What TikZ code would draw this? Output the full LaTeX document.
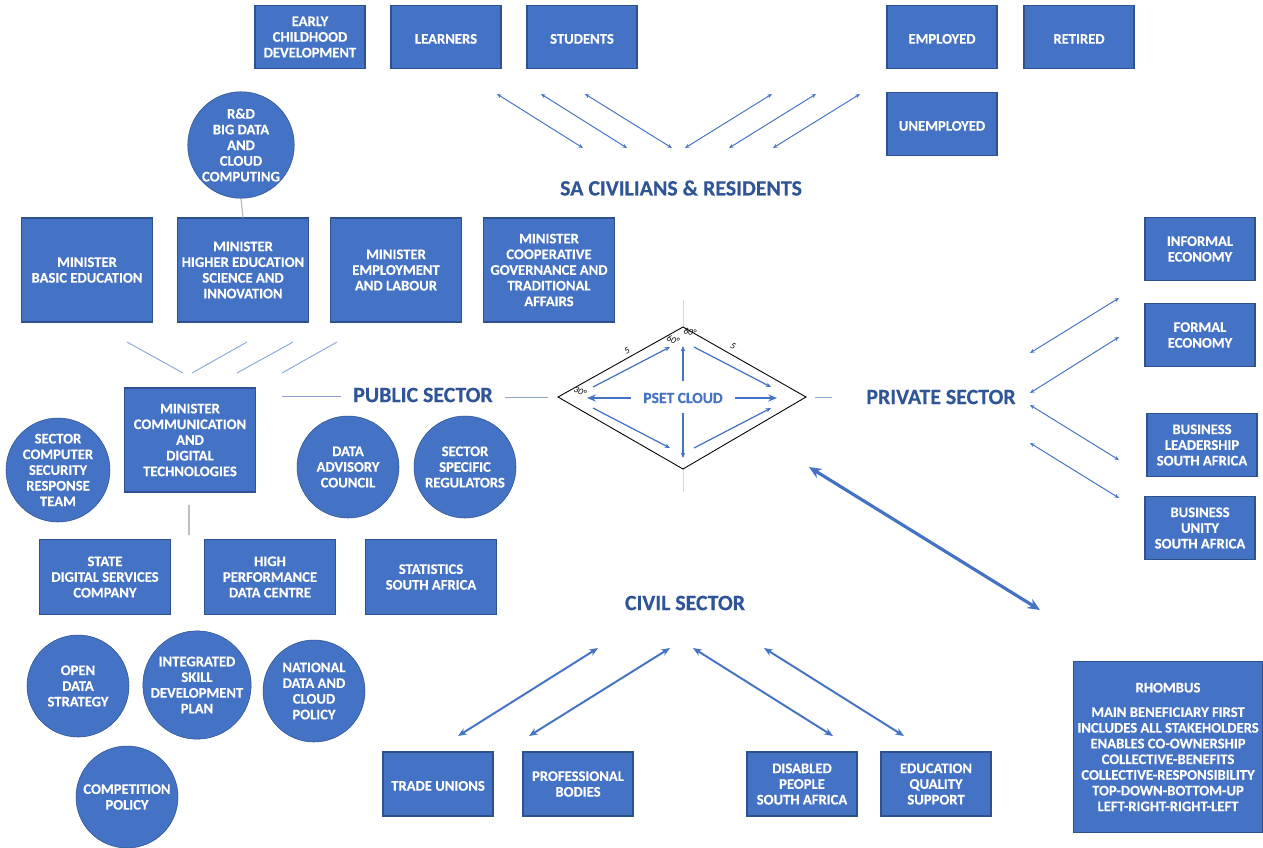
\documentclass[tikz,border=0pt]{standalone}
\usepackage{fontspec}
\setmainfont{Carlito}
\newfontface\heavy{Carlito Bold}[FakeBold=0.3]
\usetikzlibrary{arrows.meta}

\definecolor{boxblue}{HTML}{4472C4}
\definecolor{boxedge}{HTML}{2F528F}
\definecolor{headblue}{HTML}{2F5597}
\definecolor{linkblue}{HTML}{4472C4}
\definecolor{paleblue}{HTML}{8EA9DB}
\definecolor{softgray}{HTML}{BFBFBF}

\def\upx{0.5669pt}
\newcommand\boxfont{\fontsize{8.3}{8.9}\selectfont\heavy}
\newcommand\headfont{\fontsize{12.4}{14}\selectfont\heavy}

\tikzset{
  sqbox/.style n args={2}{draw=boxedge, line width=0.6pt, fill=boxblue,
    text=white, font=\boxfont, align=center, inner sep=0pt,
    minimum width=#1*\upx, minimum height=#2*\upx,
    execute at begin node={\rule{0pt}{7.6pt}}},
  disc/.style={circle, draw=boxedge, line width=0.3pt, fill=boxblue,
    text=white, font=\boxfont, align=center, inner sep=0pt,
    minimum size=#1*\upx},
  heading/.style={text=headblue, font=\headfont, inner sep=0pt},
  fanline/.style={draw=linkblue, line width=0.55pt,
    {Stealth[length=2.6pt,width=2.2pt]}-{Stealth[length=2.6pt,width=2.2pt]}},
  civline/.style={draw=linkblue, line width=1.1pt,
    {Stealth[length=5pt,width=4pt]}-{Stealth[length=5pt,width=4pt]}},
  bigline/.style={draw=linkblue, line width=1.8pt,
    {Stealth[length=7pt,width=6pt]}-{Stealth[length=7pt,width=6pt]}},
  feedline/.style={draw=paleblue, line width=0.55pt},
  stem/.style={draw=softgray, line width=0.7pt},
  inarrow/.style={draw=linkblue, line width=0.7pt, -{Stealth[length=3pt,width=2.5pt]}},
  inbold/.style={draw=linkblue, line width=1.3pt, -{Stealth[length=5pt,width=4pt]}},
  anglab/.style={font=\fontsize{5.2}{6}\selectfont\itshape, inner sep=0pt, text=black},
}

\begin{document}
\begin{tikzpicture}[x=0.5669pt, y=-0.5669pt]
\useasboundingbox[fill=white] (0,0) rectangle (1263,847);

% ---------- civilians & residents ----------
\node[sqbox={110}{63}] (ecd) at (310,37) {EARLY\\CHILDHOOD\\DEVELOPMENT};
\node[sqbox={110}{63}] (lrn) at (446,37) {LEARNERS};
\node[sqbox={110}{63}] (stu) at (582,37) {STUDENTS};
\node[sqbox={110}{63}] (emp) at (942,37) {EMPLOYED};
\node[sqbox={110}{63}] (ret) at (1079,37) {RETIRED};
\node[sqbox={110}{63}] (unemp) at (942,124) {UNEMPLOYED};

\node[heading] (civ) at (681,188) {SA CIVILIANS \& RESIDENTS};

\foreach \i/\ax/\bx in {1/497/583, 2/541/627, 3/585/672, 4/772/685, 5/816/729, 6/860/773} {
  \coordinate (ta\i) at (\ax,94);
  \coordinate (tb\i) at (\bx,148);
  \draw[fanline] (ta\i) -- (tb\i);
}

% ---------- public sector ----------
\node[disc=100] (rnd) at (241,145) {R\&D\\BIG DATA\\AND\\CLOUD\\COMPUTING};

\node[sqbox={131}{104}] (mbe) at (87,270) {MINISTER\\BASIC EDUCATION};
\node[sqbox={131}{104}] (mhe) at (243,270) {MINISTER\\HIGHER EDUCATION\\SCIENCE AND\\INNOVATION};
\node[sqbox={131}{104}] (mel) at (396,270) {MINISTER\\EMPLOYMENT\\AND LABOUR};
\node[sqbox={131}{104}] (mcg) at (549,270) {MINISTER\\COOPERATIVE\\GOVERNANCE AND\\TRADITIONAL\\AFFAIRS};

\draw[stem] (rnd.south) -- (mhe.north);

\foreach \i/\ax/\ay/\bx/\by in {1/127/342/183/373, 2/247/342/192/373, 3/293/342/237/373, 4/337/342/282/373} {
  \coordinate (fa\i) at (\ax,\ay);
  \coordinate (fb\i) at (\bx,\by);
  \draw[feedline] (fa\i) -- (fb\i);
}

\node[sqbox={131}{104}] (mcd) at (190,440) {MINISTER\\COMMUNICATION\\AND\\DIGITAL\\TECHNOLOGIES};
\node[heading] (pub) at (423,395) {PUBLIC SECTOR};

\node[disc=104] (csirt) at (58,470) {SECTOR\\COMPUTER\\SECURITY\\RESPONSE\\TEAM};
\node[disc=102] (dac) at (348,467) {DATA\\ADVISORY\\COUNCIL};
\node[disc=102] (ssr) at (465,467) {SECTOR\\SPECIFIC\\REGULATORS};

\node[sqbox={131}{75}] (sdsc) at (105,577) {STATE\\DIGITAL SERVICES\\COMPANY};
\node[sqbox={131}{75}] (hpdc) at (270,577) {HIGH\\PERFORMANCE\\DATA CENTRE};
\node[sqbox={131}{75}] (stats) at (431,577) {STATISTICS\\SOUTH AFRICA};

\coordinate (mcdstem) at (189,505);
\coordinate (mcdfoot) at (189,535);
\draw[stem] (mcdstem) -- (mcdfoot);

\node[disc=102] (ods) at (78,686) {OPEN\\DATA\\STRATEGY};
\node[disc=102] (isdp) at (197,685) {INTEGRATED\\SKILL\\DEVELOPMENT\\PLAN};
\node[disc=102] (ndcp) at (314,691) {NATIONAL\\DATA AND\\CLOUD\\POLICY};
\node[disc=102] (comp) at (127,797) {COMPETITION\\POLICY};

% ---------- PSET cloud rhombus ----------
\coordinate (rl) at (558,397);
\coordinate (rt) at (683,327);
\coordinate (rr) at (806,397);
\coordinate (rb) at (683,469);
\coordinate (axtop) at (683,300);
\coordinate (axbot) at (683,492);
\draw[draw=softgray!60, line width=0.5pt] (axtop) -- (axbot);
\draw[black, line width=0.5pt, fill=white] (rl) -- (rt) -- (rr) -- (rb) -- cycle;

\node[text=linkblue, font=\fontsize{8.8}{10}\selectfont\heavy, inner sep=0pt] (pset) at (683,398) {PSET CLOUD};

\coordinate (hl) at (587,398);
\coordinate (hr) at (777,398);
\draw[inbold] ([xshift=-12*\upx]pset.west) -- (hl);
\draw[inbold] ([xshift=12*\upx]pset.east) -- (hr);
\coordinate (vu1) at (683,381);
\coordinate (vu2) at (683,346);
\coordinate (vd1) at (683,413);
\coordinate (vd2) at (683,458);
\draw[inarrow] (vu1) -- (vu2);
\draw[inarrow] (vd1) -- (vd2);
\coordinate (d1a) at (593,387); \coordinate (d1b) at (670,347);
\coordinate (d2a) at (694,347); \coordinate (d2b) at (771,387);
\coordinate (d3a) at (593,408); \coordinate (d3b) at (670,448);
\coordinate (d4a) at (694,448); \coordinate (d4b) at (771,408);
\draw[inarrow] (d1a) -- (d1b);
\draw[inarrow] (d2a) -- (d2b);
\draw[inarrow] (d3a) -- (d3b);
\draw[inarrow] (d4a) -- (d4b);

\node[anglab, rotate=29] (len1) at (627,351) {5};
\node[anglab, rotate=-29] (len2) at (733,346) {5};
\node[anglab, rotate=-15] (ang1) at (690,332) {60°};
\node[anglab, rotate=-20] (ang2) at (673,340) {60°};
\node[anglab, rotate=-25] (ang3) at (580,391) {30°};

% links between headings and the rhombus
\coordinate (pubA) at (282,396);
\coordinate (pubB) at (341,396);
\coordinate (pubC) at (505,397);
\coordinate (pubD) at (548,397);
\draw[feedline, draw=paleblue!80!gray] (pubA) -- (pubB);
\draw[feedline, draw=paleblue!80!gray] (pubC) -- (pubD);

\node[heading] (priv) at (941,397) {PRIVATE SECTOR};
\coordinate (prA) at (815,397);
\coordinate (prB) at (832,397);
\draw[feedline] (prA) -- (prB);

% ---------- private sector ----------
\node[sqbox={110}{63}] (inf) at (1200,249) {INFORMAL\\ECONOMY};
\node[sqbox={110}{63}] (form) at (1200,335) {FORMAL\\ECONOMY};
\node[sqbox={110}{63}] (blsa) at (1202,445) {BUSINESS\\LEADERSHIP\\SOUTH AFRICA};
\node[sqbox={110}{63}] (busa) at (1200,528) {BUSINESS\\UNITY\\SOUTH AFRICA};

\foreach \i/\ay/\by in {1/353/298, 2/393/337, 3/405/460, 4/443/498} {
  \coordinate (pa\i) at (1030,\ay);
  \coordinate (pb\i) at (1119,\by);
  \draw[fanline] (pa\i) -- (pb\i);
}

\coordinate (bigA) at (809,467);
\coordinate (bigB) at (1040,610);
\draw[bigline] (bigA) -- (bigB);

% ---------- civil sector ----------
\node[heading] (civil) at (685,603) {CIVIL SECTOR};

\node[sqbox={110}{64}] (tu) at (438,784) {TRADE UNIONS};
\node[sqbox={110}{64}] (pb) at (578,784) {PROFESSIONAL\\BODIES};
\node[sqbox={110}{64}] (dpsa) at (802,784) {DISABLED\\PEOPLE\\SOUTH AFRICA};
\node[sqbox={110}{64}] (eqs) at (936,784) {EDUCATION\\QUALITY\\SUPPORT};

\foreach \i/\ax/\ay/\bx/\by in {1/458/736/598/648, 2/529/736/670/648, 3/833/736/693/648, 4/904/736/764/648} {
  \coordinate (ca\i) at (\ax,\ay);
  \coordinate (cb\i) at (\bx,\by);
  \draw[civline] (ca\i) -- (cb\i);
}

% ---------- legend ----------
\node[sqbox={189}{171}] (legend) at (1168,747)
  {RHOMBUS\\[5pt]
   MAIN BENEFICIARY FIRST\\
   INCLUDES ALL STAKEHOLDERS\\
   ENABLES CO-OWNERSHIP\\
   COLLECTIVE-BENEFITS\\
   COLLECTIVE-RESPONSIBILITY\\
   TOP-DOWN-BOTTOM-UP\\
   LEFT-RIGHT-RIGHT-LEFT};

\end{tikzpicture}
\end{document}
